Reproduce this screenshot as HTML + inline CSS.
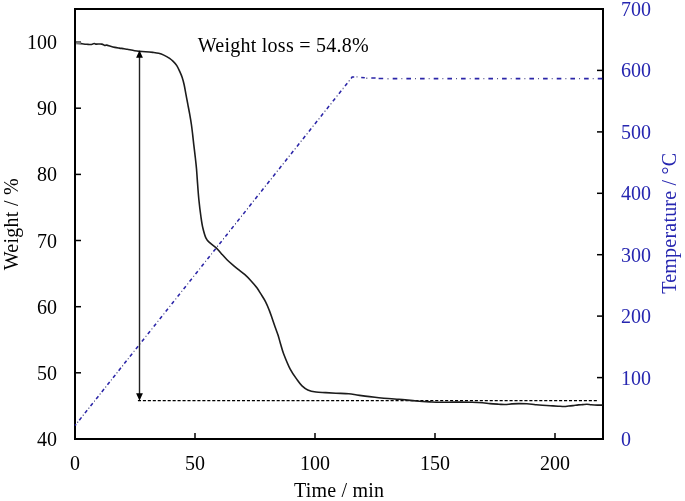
<!DOCTYPE html>
<html><head><meta charset="utf-8"><style>
html,body{margin:0;padding:0;background:#fff;width:685px;height:501px;overflow:hidden}
svg{display:block;will-change:transform}
text{font-family:"Liberation Serif",serif}
</style></head><body>
<svg width="685" height="501" viewBox="0 0 685 501">
<rect x="75.0" y="9.0" width="528.0" height="430.0" fill="none" stroke="#000" stroke-width="2"/>
<line x1="195.0" y1="439.0" x2="195.0" y2="433.0" stroke="#000" stroke-width="1.5"/>
<line x1="315.0" y1="439.0" x2="315.0" y2="433.0" stroke="#000" stroke-width="1.5"/>
<line x1="435.0" y1="439.0" x2="435.0" y2="433.0" stroke="#000" stroke-width="1.5"/>
<line x1="555.0" y1="439.0" x2="555.0" y2="433.0" stroke="#000" stroke-width="1.5"/>
<line x1="75.0" y1="372.8" x2="81.0" y2="372.8" stroke="#000" stroke-width="1.5"/>
<line x1="75.0" y1="306.7" x2="81.0" y2="306.7" stroke="#000" stroke-width="1.5"/>
<line x1="75.0" y1="240.5" x2="81.0" y2="240.5" stroke="#000" stroke-width="1.5"/>
<line x1="75.0" y1="174.4" x2="81.0" y2="174.4" stroke="#000" stroke-width="1.5"/>
<line x1="75.0" y1="108.2" x2="81.0" y2="108.2" stroke="#000" stroke-width="1.5"/>
<line x1="75.0" y1="42.1" x2="81.0" y2="42.1" stroke="#000" stroke-width="1.5"/>
<line x1="603.0" y1="377.6" x2="597.0" y2="377.6" stroke="#000" stroke-width="1.5"/>
<line x1="603.0" y1="316.1" x2="597.0" y2="316.1" stroke="#000" stroke-width="1.5"/>
<line x1="603.0" y1="254.7" x2="597.0" y2="254.7" stroke="#000" stroke-width="1.5"/>
<line x1="603.0" y1="193.3" x2="597.0" y2="193.3" stroke="#000" stroke-width="1.5"/>
<line x1="603.0" y1="131.9" x2="597.0" y2="131.9" stroke="#000" stroke-width="1.5"/>
<line x1="603.0" y1="70.4" x2="597.0" y2="70.4" stroke="#000" stroke-width="1.5"/>
<path d="M75.00,425.60L76.12,424.19 M79.29,420.21L81.53,417.39 M84.92,413.13L87.16,410.31 M90.54,406.05L92.78,403.24 M96.17,398.98L98.41,396.16 M101.80,391.90L104.04,389.08 M107.43,384.82L109.67,382.00 M113.06,377.74L115.30,374.92 M118.68,370.66L120.92,367.85 M124.31,363.59L126.55,360.77 M129.94,356.51L132.18,353.69 M135.90,349.01L138.14,346.19 M141.87,341.51L144.11,338.69 M147.83,334.01L150.07,331.19 M153.80,326.51L156.04,323.69 M159.76,319.01L162.00,316.19 M165.72,311.51L167.96,308.69 M171.69,304.01L173.93,301.19 M177.65,296.51L179.89,293.69 M183.61,289.01L185.86,286.19 M189.58,281.51L191.82,278.69 M195.54,274.01L197.78,271.19 M201.51,266.51L203.75,263.69 M207.48,259.00L209.72,256.18 M213.45,251.49L215.69,248.67 M219.42,243.98L221.66,241.16 M225.40,236.46L227.64,233.65 M231.37,228.95L233.61,226.14 M237.34,221.44L239.58,218.62 M243.32,213.93L245.56,211.11 M249.29,206.42L251.53,203.60 M255.26,198.91L257.50,196.09 M261.22,191.41L263.46,188.59 M267.19,183.91L269.43,181.09 M273.15,176.41L275.39,173.59 M279.12,168.91L281.36,166.09 M285.08,161.41L287.32,158.59 M291.04,153.91L293.28,151.09 M297.01,146.41L299.25,143.59 M302.97,138.91L305.21,136.09 M308.94,131.41L311.18,128.59 M314.90,123.91L317.14,121.09 M320.86,116.41L323.10,113.59 M326.83,108.91L329.07,106.09 M332.89,101.28L335.13,98.47 M338.95,93.66L341.19,90.84 M345.02,86.03L347.26,83.22 M351.08,78.41L352.57,76.53 M352.20,77.00L354.20,77.00 M361.20,77.40L364.80,77.80 M371.30,78.00L375.60,78.10 M378.60,78.50L383.20,78.50 M392.70,78.60L397.30,78.60 M406.37,78.60L410.97,78.60 M420.04,78.60L424.64,78.60 M433.71,78.60L438.31,78.60 M447.38,78.60L451.98,78.60 M461.05,78.60L465.65,78.60 M474.72,78.60L479.32,78.60 M488.39,78.60L492.99,78.60 M502.06,78.60L506.66,78.60 M515.73,78.60L520.33,78.60 M529.40,78.60L534.00,78.60 M543.07,78.60L547.67,78.60 M556.74,78.60L561.34,78.60 M570.41,78.60L575.01,78.60 M584.08,78.60L588.68,78.60 M597.75,78.60L602.35,78.60" fill="none" stroke="#2b25a8" stroke-width="1.55"/>
<path d="M77.20,422.20h1 M82.72,415.26h1 M88.35,408.18h1 M93.98,401.11h1 M99.61,394.03h1 M105.23,386.95h1 M110.86,379.87h1 M116.49,372.79h1 M122.12,365.72h1 M127.75,358.64h1 M133.54,351.35h1 M139.51,343.85h1 M145.47,336.35h1 M151.43,328.85h1 M157.40,321.35h1 M163.36,313.85h1 M169.33,306.35h1 M175.29,298.85h1 M181.25,291.35h1 M187.22,283.85h1 M193.18,276.35h1 M199.14,268.85h1 M205.11,261.34h1 M211.09,253.83h1 M217.06,246.32h1 M223.03,238.81h1 M229.00,231.30h1 M234.98,223.79h1 M240.95,216.28h1 M246.92,208.77h1 M252.89,201.26h1 M258.86,193.75h1 M264.83,186.25h1 M270.79,178.75h1 M276.75,171.25h1 M282.72,163.75h1 M288.68,156.25h1 M294.65,148.75h1 M300.61,141.25h1 M306.57,133.75h1 M312.54,126.25h1 M318.50,118.75h1 M324.47,111.25h1 M330.48,103.69h1 M336.54,96.06h1 M342.61,88.44h1 M348.67,80.81h1 M356.50,76.90h1 M366.30,78.20h1 M387.50,78.70h1 M401.33,78.60h1 M415.00,78.60h1 M428.67,78.60h1 M442.34,78.60h1 M456.01,78.60h1 M469.68,78.60h1 M483.35,78.60h1 M497.02,78.60h1 M510.69,78.60h1 M524.36,78.60h1 M538.03,78.60h1 M551.70,78.60h1 M565.37,78.60h1 M579.04,78.60h1 M592.71,78.60h1" fill="none" stroke="#55558a" stroke-width="1.4"/>
<line x1="137.9" y1="400.6" x2="597" y2="400.6" stroke="#000" stroke-width="1.4" stroke-dasharray="3.1 1.855"/>
<path d="M77.00,43.00 C77.72,43.10 79.62,43.38 81.30,43.60 C82.98,43.82 85.40,44.15 87.10,44.30 C88.80,44.45 90.33,44.63 91.50,44.50 C92.67,44.37 93.37,43.57 94.10,43.50 C94.83,43.43 94.63,44.00 95.90,44.10 C97.17,44.20 100.23,43.88 101.70,44.10 C103.17,44.32 103.85,45.23 104.70,45.40 C105.55,45.57 105.83,44.95 106.80,45.10 C107.77,45.25 109.15,45.92 110.50,46.30 C111.85,46.68 113.43,47.10 114.90,47.40 C116.37,47.70 117.78,47.88 119.30,48.10 C120.82,48.32 122.67,48.50 124.00,48.70 C125.33,48.90 125.53,48.95 127.30,49.30 C129.07,49.65 132.60,50.45 134.60,50.80 C136.60,51.15 137.48,51.25 139.30,51.40 C141.12,51.55 143.25,51.53 145.50,51.70 C147.75,51.87 150.60,52.13 152.80,52.40 C155.00,52.67 156.87,52.85 158.70,53.30 C160.53,53.75 161.98,54.25 163.80,55.10 C165.62,55.95 168.03,57.35 169.60,58.40 C171.17,59.45 172.00,60.20 173.20,61.40 C174.40,62.60 175.70,63.90 176.80,65.60 C177.90,67.30 178.90,69.62 179.80,71.60 C180.70,73.58 181.47,75.27 182.20,77.50 C182.93,79.73 183.57,82.15 184.20,85.00 C184.83,87.85 185.40,91.40 186.00,94.60 C186.60,97.80 187.20,101.02 187.80,104.20 C188.40,107.38 189.00,110.32 189.60,113.70 C190.20,117.08 190.90,121.10 191.40,124.50 C191.90,127.90 192.20,130.70 192.60,134.10 C193.00,137.50 193.35,141.00 193.80,144.90 C194.25,148.80 194.85,153.53 195.30,157.50 C195.75,161.47 196.17,164.97 196.50,168.70 C196.83,172.43 196.92,174.85 197.30,179.90 C197.68,184.95 198.20,192.90 198.80,199.00 C199.40,205.10 200.23,211.72 200.90,216.50 C201.57,221.28 201.95,224.10 202.80,227.70 C203.65,231.30 204.80,235.57 206.00,238.10 C207.20,240.63 208.30,241.28 210.00,242.90 C211.70,244.52 214.37,246.08 216.20,247.80 C218.03,249.52 219.20,251.22 221.00,253.20 C222.80,255.18 225.00,257.72 227.00,259.70 C229.00,261.68 231.02,263.40 233.00,265.10 C234.98,266.80 236.92,268.30 238.90,269.90 C240.88,271.50 242.90,272.90 244.90,274.70 C246.90,276.50 248.90,278.52 250.90,280.70 C252.90,282.88 255.22,285.55 256.90,287.80 C258.58,290.05 259.55,291.87 261.00,294.20 C262.45,296.53 264.23,299.15 265.60,301.80 C266.97,304.45 268.10,307.32 269.20,310.10 C270.30,312.88 271.22,315.70 272.20,318.50 C273.18,321.30 274.12,324.10 275.10,326.90 C276.08,329.70 277.20,332.50 278.10,335.30 C279.00,338.10 279.58,340.63 280.50,343.70 C281.42,346.77 281.98,349.47 283.60,353.70 C285.22,357.93 287.92,364.72 290.20,369.10 C292.48,373.48 295.33,377.22 297.30,380.00 C299.27,382.78 300.25,384.15 302.00,385.80 C303.75,387.45 305.47,388.87 307.80,389.90 C310.13,390.93 313.07,391.55 316.00,392.00 C318.93,392.45 322.08,392.40 325.40,392.60 C328.72,392.80 332.02,393.00 335.90,393.20 C339.78,393.40 345.20,393.50 348.70,393.80 C352.20,394.10 354.17,394.62 356.90,395.00 C359.63,395.38 362.08,395.72 365.10,396.10 C368.12,396.48 372.30,396.98 375.00,397.30 C377.70,397.62 377.33,397.67 381.30,398.00 C385.27,398.33 392.95,398.80 398.80,399.30 C404.65,399.80 411.20,400.57 416.40,401.00 C421.60,401.43 426.07,401.68 430.00,401.90 C433.93,402.12 435.83,402.27 440.00,402.30 C444.17,402.33 449.67,402.12 455.00,402.10 C460.33,402.08 467.40,402.10 472.00,402.20 C476.60,402.30 479.60,402.47 482.60,402.70 C485.60,402.93 487.30,403.35 490.00,403.60 C492.70,403.85 496.32,404.05 498.80,404.20 C501.28,404.35 502.72,404.55 504.90,404.50 C507.08,404.45 509.57,404.05 511.90,403.90 C514.23,403.75 516.42,403.62 518.90,403.60 C521.38,403.58 524.62,403.70 526.80,403.80 C528.98,403.90 530.40,404.03 532.00,404.20 C533.60,404.37 534.65,404.62 536.40,404.80 C538.15,404.98 540.18,405.15 542.50,405.30 C544.82,405.45 547.70,405.55 550.30,405.70 C552.90,405.85 555.77,406.07 558.10,406.20 C560.43,406.33 562.55,406.53 564.30,406.50 C566.05,406.47 567.15,406.15 568.60,406.00 C570.05,405.85 571.38,405.78 573.00,405.60 C574.62,405.42 576.68,405.07 578.30,404.90 C579.92,404.73 581.25,404.70 582.70,404.60 C584.15,404.50 585.55,404.27 587.00,404.30 C588.45,404.33 589.65,404.67 591.40,404.80 C593.15,404.93 595.65,405.05 597.50,405.10 C599.35,405.15 601.67,405.10 602.50,405.10" fill="none" stroke="#1c1c1c" stroke-width="1.6" stroke-linejoin="round"/>
<rect x="76.2" y="41.4" width="4.6" height="3" fill="#7a7a7a"/>
<line x1="139.5" y1="57" x2="139.5" y2="394" stroke="#222" stroke-width="1.4"/>
<polygon points="139.5,50.2 136.1,57.8 142.9,57.8" fill="#000"/>
<polygon points="139.5,400.8 136.1,393.2 142.9,393.2" fill="#000"/>
<text x="75.0" y="470" font-family="Liberation Serif" font-size="20" text-anchor="middle">0</text>
<text x="195.0" y="470" font-family="Liberation Serif" font-size="20" text-anchor="middle">50</text>
<text x="315.0" y="470" font-family="Liberation Serif" font-size="20" text-anchor="middle">100</text>
<text x="435.0" y="470" font-family="Liberation Serif" font-size="20" text-anchor="middle">150</text>
<text x="555.0" y="470" font-family="Liberation Serif" font-size="20" text-anchor="middle">200</text>
<text x="57" y="446.0" font-family="Liberation Serif" font-size="20" text-anchor="end">40</text>
<text x="57" y="379.8" font-family="Liberation Serif" font-size="20" text-anchor="end">50</text>
<text x="57" y="313.7" font-family="Liberation Serif" font-size="20" text-anchor="end">60</text>
<text x="57" y="247.5" font-family="Liberation Serif" font-size="20" text-anchor="end">70</text>
<text x="57" y="181.4" font-family="Liberation Serif" font-size="20" text-anchor="end">80</text>
<text x="57" y="115.2" font-family="Liberation Serif" font-size="20" text-anchor="end">90</text>
<text x="57" y="49.1" font-family="Liberation Serif" font-size="20" text-anchor="end">100</text>
<text x="621.1" y="446.0" font-family="Liberation Serif" font-size="20" fill="#2626b0">0</text>
<text x="621.1" y="384.6" font-family="Liberation Serif" font-size="20" fill="#2626b0">100</text>
<text x="621.1" y="323.1" font-family="Liberation Serif" font-size="20" fill="#2626b0">200</text>
<text x="621.1" y="261.7" font-family="Liberation Serif" font-size="20" fill="#2626b0">300</text>
<text x="621.1" y="200.3" font-family="Liberation Serif" font-size="20" fill="#2626b0">400</text>
<text x="621.1" y="138.9" font-family="Liberation Serif" font-size="20" fill="#2626b0">500</text>
<text x="621.1" y="77.4" font-family="Liberation Serif" font-size="20" fill="#2626b0">600</text>
<text x="621.1" y="16.0" font-family="Liberation Serif" font-size="20" fill="#2626b0">700</text>
<text x="197.8" y="52.4" font-family="Liberation Serif" font-size="20" textLength="170.8" lengthAdjust="spacing">Weight loss = 54.8%</text>
<text x="294" y="497" font-family="Liberation Serif" font-size="20" textLength="90.1" lengthAdjust="spacing">Time / min</text>
<text transform="translate(17.6,270.2) rotate(-90)" font-family="Liberation Serif" font-size="20" textLength="91.9" lengthAdjust="spacing">Weight / %</text>
<text transform="translate(675.5,293.8) rotate(-90)" font-family="Liberation Serif" font-size="20" fill="#2626b0" textLength="140.9" lengthAdjust="spacing">Temperature / °C</text>
</svg>
</body></html>
